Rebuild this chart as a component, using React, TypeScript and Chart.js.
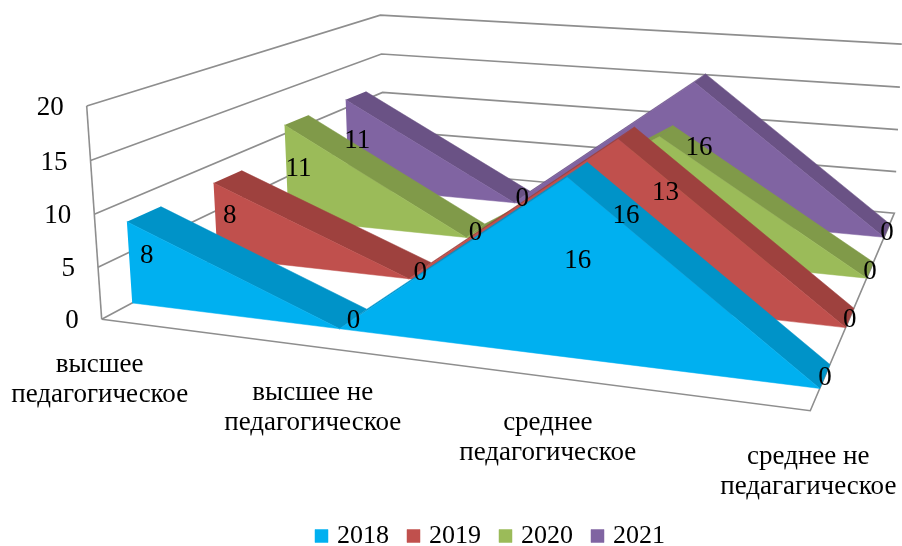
import React, { useEffect, useRef } from "react";
import { Chart, registerables } from "chart.js";

Chart.register(...registerables);

const categories: string[][] = [
  ["высшее", "педагогическое"],
  ["высшее не", "педагогическое"],
  ["среднее", "педагогическое"],
  ["среднее не", "педагагическое"],
];
const years = ["2018", "2019", "2020", "2021"];
const values2018 = [8, 0, 16, 0];
const values2019 = [8, 0, 16, 0];
const values2020 = [11, 0, 13, 0];
const values2021 = [11, 0, 16, 0];
const seriesValues = [values2018, values2019, values2020, values2021];
const yTicks = [0, 5, 10, 15, 20];
const frontColors = ["#00B0F0", "#C0504D", "#9BBB59", "#8064A2"];
const topColors = ["#0093C8", "#9E413E", "#809A49", "#6A5285"];

const FONT = "'Liberation Serif'";
const FONT_SIZE = 27;
const LEGEND_FONT_SIZE = 26;
const W = 902;
const H = 546;
const VALUE_MAX = 20;
const WALL = "#8E8E8E";

// Perspective camera: the four box corners (floor front-left, floor front-right,
// wall top at the front, floor back-left) with their homogeneous weights.
const O = [101.7, 319.3];
const A = [811, 410.7];
const B = [86.7, 106];
const C = [385, 168];
const wA = 0.86;
const wB = 0.97;
const wC = 1.4135;
const SLOT = 0.25;
const FIRST_FRONT = 0.0788;
const THICK = 0.0921;

function project(c: number, v: number, d: number): [number, number] {
  const w = 1 + c * (wA - 1) + v * (wB - 1) + d * (wC - 1);
  const o = 1 - c - v - d;
  const f = (i: number) => (o * O[i] + c * wA * A[i] + v * wB * B[i] + d * wC * C[i]) / w;
  return [f(0), f(1)];
}

// The y scale stays in value units; screen rows are expressed in them.
const Y0 = 319;
const PX_PER_UNIT = 10.4;
const toPoint = (c: number, v: number, d: number) => {
  const [x, y] = project(c, v, d);
  return { x, y: (Y0 - y) / PX_PER_UNIT };
};
const catPos = (i: number) => i / (categories.length - 1);
const frontDepth = (s: number) => FIRST_FRONT + s * SLOT;

function polygon(label: string, color: string, data: { x: number; y: number }[]) {
  return {
    label,
    data,
    showLine: true,
    fill: "shape",
    backgroundColor: color,
    borderColor: color,
    borderWidth: 0.5,
    pointRadius: 0,
    tension: 0,
  };
}
function wallLine(data: { x: number; y: number }[]) {
  return {
    label: "",
    data,
    showLine: true,
    fill: false,
    clip: false,
    borderColor: WALL,
    borderWidth: 1.6,
    pointRadius: 0,
    tension: 0,
  };
}

function buildDatasets() {
  const out: any[] = [];
  seriesValues.forEach((vals, s) => {
    const df = frontDepth(s);
    const front = vals.map((v, i) => toPoint(catPos(i), v / VALUE_MAX, df));
    const base = vals.map((_, i) => toPoint(catPos(i), 0, df)).reverse();
    out.push(polygon(years[s], frontColors[s], [...front, ...base]));
    for (let i = 0; i < vals.length - 1; i++) {
      out.push(
        polygon("", topColors[s], [
          toPoint(catPos(i), vals[i] / VALUE_MAX, df),
          toPoint(catPos(i + 1), vals[i + 1] / VALUE_MAX, df),
          toPoint(catPos(i + 1), vals[i + 1] / VALUE_MAX, df + THICK),
          toPoint(catPos(i), vals[i] / VALUE_MAX, df + THICK),
        ])
      );
    }
  });
  out.push(wallLine([toPoint(0, 0, 0), toPoint(1, 0, 0), toPoint(1, 0, 1), toPoint(0, 0, 1), toPoint(0, 0, 0)]));
  out.push(wallLine([toPoint(0, 0, 0), toPoint(0, 1, 0)]));
  yTicks.slice(1).forEach((t) => {
    const v = t / VALUE_MAX;
    out.push(wallLine([toPoint(0, v, 0), toPoint(0, v, 1), toPoint(1, v, 1)]));
  });
  return out;
}

const scene3d = {
  id: "scene3d",
  afterLayout(chart: any) {
    if (chart.legend) {
      chart.legend.left += 82;
      chart.legend.top = 501;
    }
  },
  beforeDraw(chart: any) {
    chart.scales.y.getLabelItems().forEach((item: any) => {
      const v = Number(item.label) / VALUE_MAX;
      const [x, y] = project(0, v, 0);
      item.options.translation = [x - 23, y + 2];
      item.options.textAlign = "right";
      item.options.textBaseline = "middle";
    });
  },
  afterDatasetsDraw(chart: any) {
    const { ctx, scales } = chart;
    const px = (p: { x: number; y: number }) => [scales.x.getPixelForValue(p.x), scales.y.getPixelForValue(p.y)];
    ctx.save();
    ctx.font = `${FONT_SIZE}px ${FONT}`;
    ctx.fillStyle = "#000";
    ctx.textAlign = "center";
    ctx.textBaseline = "middle";
    seriesValues.forEach((vals, s) => {
      vals.forEach((v, i) => {
        const [x, y] = px(toPoint(catPos(i), v / VALUE_MAX / 2, frontDepth(s) + THICK / 2));
        ctx.fillText(String(v), x, y + 2);
      });
    });
    categories.forEach((lines, i) => {
      const [x, y] = px(toPoint(catPos(i), 0, 0));
      lines.forEach((line, l) => ctx.fillText(line, x - 2, y + 46 + l * 30));
    });
    ctx.restore();
  },
};

export default function App() {
  const ref = useRef<HTMLCanvasElement | null>(null);
  useEffect(() => {
    if (!ref.current) return;
    const chart = new Chart(ref.current, {
      type: "scatter",
      data: { datasets: buildDatasets() },
      plugins: [scene3d],
      options: {
        animation: false,
        responsive: false,
        events: [],
        layout: { padding: 0 },
        scales: {
          x: { type: "linear", display: false, min: 84, max: W },
          y: {
            type: "linear",
            position: "left",
            grid: { display: false },
            border: { display: false },
            afterFit: (s: any) => {
              s.width = 84;
            },
            afterBuildTicks: (s: any) => {
              s.ticks = yTicks.map((value) => ({ value }));
            },
            ticks: { autoSkip: false, color: "#000", font: { family: FONT, size: FONT_SIZE } },
          },
        },
        plugins: {
          title: { display: false },
          tooltip: { enabled: false },
          legend: {
            display: true,
            position: "bottom",
            labels: {
              usePointStyle: true,
              pointStyle: "rect",
              boxWidth: 5,
              boxHeight: 13,
              padding: 22,
              color: "#000",
              font: { family: FONT, size: LEGEND_FONT_SIZE },
              filter: (item: any) => item.text !== "",
            },
          },
        },
      },
    } as any);
    const area = chart.chartArea;
    const o: any = chart.options.scales;
    o.x.min = area.left;
    o.x.max = area.right;
    o.y.min = (Y0 - area.bottom) / PX_PER_UNIT;
    o.y.max = (Y0 - area.top) / PX_PER_UNIT;
    chart.update();
    return () => chart.destroy();
  }, []);
  return (
    <div style={{ position: "fixed", left: 0, top: 0, width: W, height: H, background: "#fff" }}>
      <canvas ref={ref} width={W} height={H} style={{ display: "block" }} />
    </div>
  );
}
